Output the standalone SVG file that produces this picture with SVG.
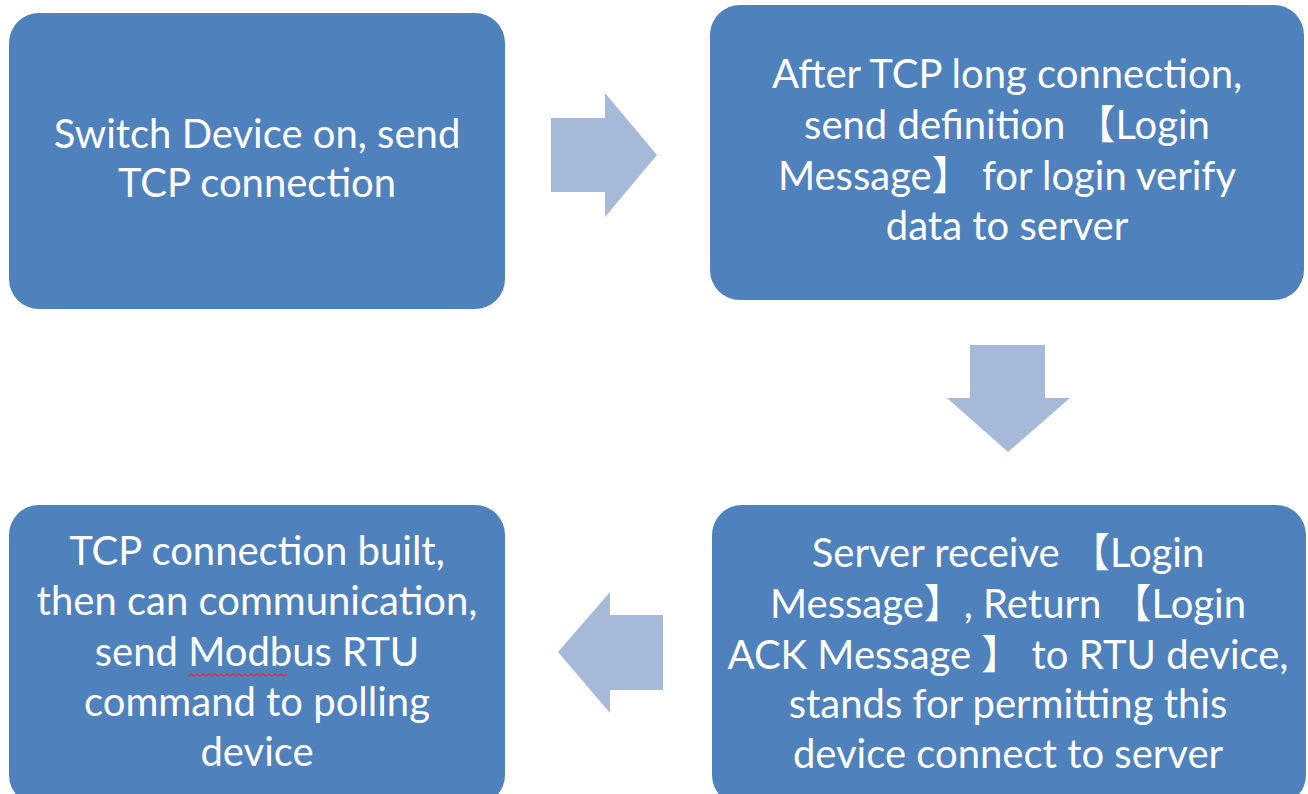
<svg xmlns="http://www.w3.org/2000/svg" width="1308" height="794" viewBox="0 0 1308 794">
<style>
.box{fill:#4F81BD;}
.arr{fill:#A7B9D9;}
.t{fill:#ffffff;font-family:Lato,"Noto Sans","Noto Sans CJK SC",sans-serif;font-size:40px;text-anchor:middle;}
.wave{fill:none;stroke:#E0303A;stroke-width:1.4;}
</style>
<rect width="1308" height="794" fill="#ffffff"/>
<g id="connectors">
<polygon class="arr" points="551,118 605,118 605,93 657,155 605,217 605,192 551,192"/>
<polygon class="arr" points="970,345 1045,345 1045,398 1070,398 1008,452 947,398 970,398"/>
<polygon class="arr" points="663,615 610,615 610,592 558,652 610,713 610,690 663,690"/>
</g>
<g id="node1">
<rect class="box" x="9" y="13" width="496" height="296" rx="30"/>
<text class="t" x="257" y="148">Switch Device on, send</text>
<text class="t" x="257" y="197">TCP connection</text>
</g>
<g id="node2">
<rect class="box" x="710" y="5" width="594" height="295" rx="30"/>
<text class="t" x="1007" y="88">After TCP long connection,</text>
<text class="t" x="1007" y="139">send definition 【Login</text>
<text class="t" x="1007" y="190">Message】 for login verify</text>
<text class="t" x="1007" y="240">data to server</text>
</g>
<g id="node3">
<rect class="box" x="712" y="505" width="594" height="300" rx="30"/>
<text class="t" x="1008" y="567">Server receive 【Login</text>
<text class="t" x="1008" y="618">Message】, Return 【Login</text>
<text class="t" x="1008" y="669">ACK Message 】 to RTU device,</text>
<text class="t" x="1008" y="718">stands for permitting this</text>
<text class="t" x="1008" y="768">device connect to server</text>
</g>
<g id="node4">
<rect class="box" x="9" y="505" width="496" height="300" rx="30"/>
<text class="t" x="257" y="565">TCP connection built,</text>
<text class="t" x="257" y="615">then can communication,</text>
<text class="t" x="257" y="666">send Modbus RTU</text>
<text class="t" x="257" y="716">command to polling</text>
<text class="t" x="257" y="766">device</text>
<path class="wave" d="M188,676 l3,-2 l3,2 l3,-2 l3,2 l3,-2 l3,2 l3,-2 l3,2 l3,-2 l3,2 l3,-2 l3,2 l3,-2 l3,2 l3,-2 l3,2 l3,-2 l3,2 l3,-2 l3,2 l3,-2 l3,2 l3,-2 l3,2 l3,-2 l3,2 l3,-2 l3,2 l3,-2 l3,2 l3,-2 l3,2 l3,-2"/>
</g>
</svg>
